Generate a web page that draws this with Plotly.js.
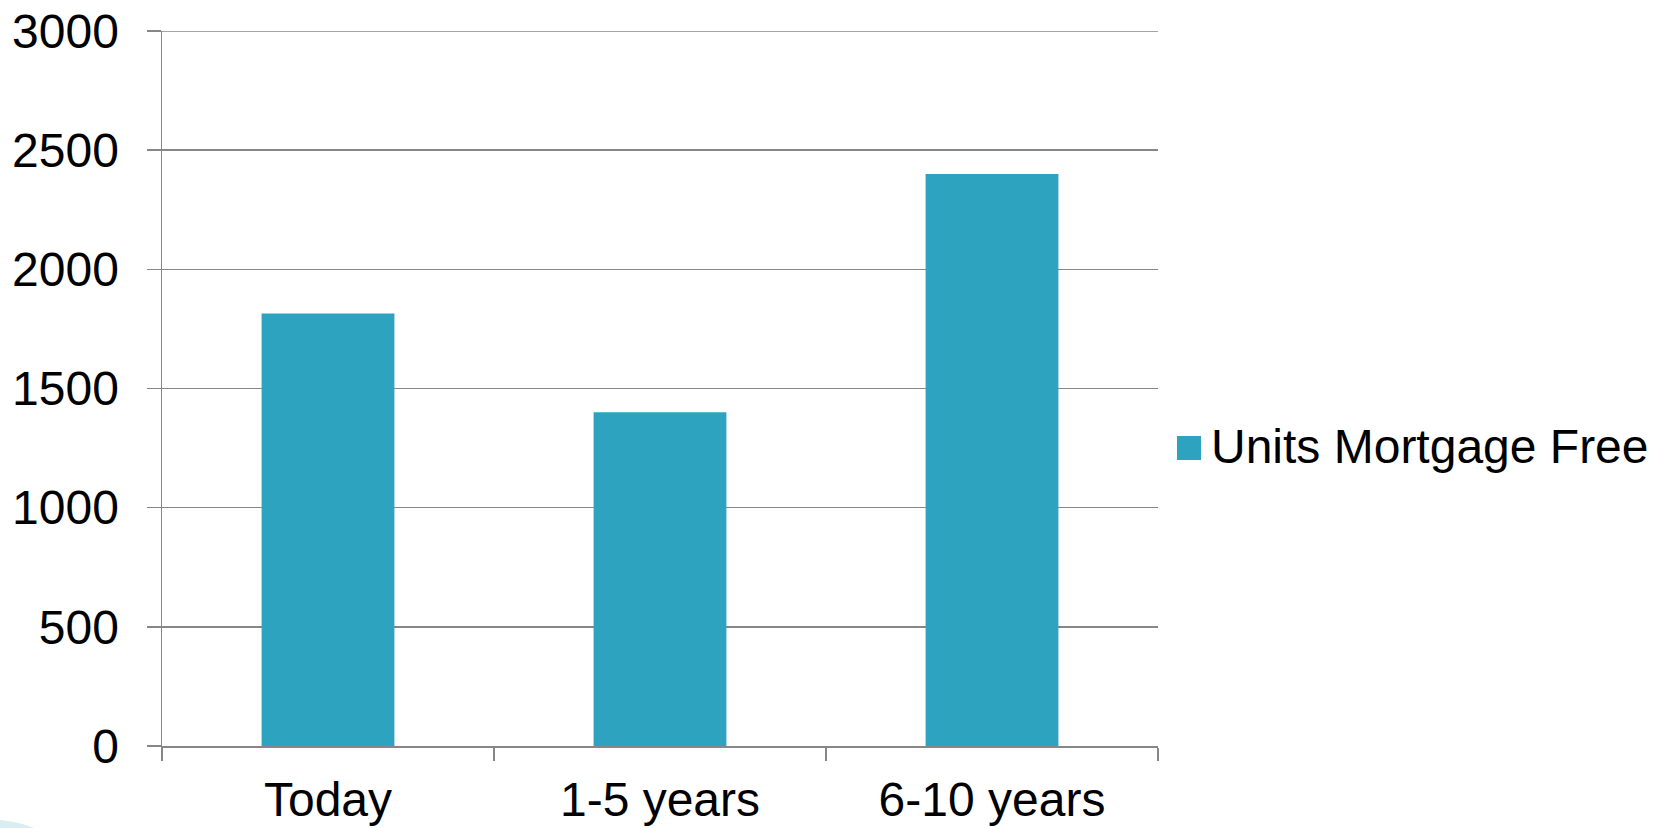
<!DOCTYPE html>
<html>
<head>
<meta charset="utf-8">
<script src="https://cdn.plot.ly/plotly-3.0.1.min.js"></script>
<style>html,body{margin:0;padding:0;background:#fff;}#chart{width:1664px;height:828px;}</style>
</head>
<body>
<div id="chart"></div>
<script>
const categories = ["Today", "1-5 years", "6-10 years"];
const unitsMortgageFree = [1815, 1400, 2400];
const seriesName = "Units Mortgage Free";
const yTickValues = [0, 500, 1000, 1500, 2000, 2500, 3000];

const barColor = "#2da3bf";
const gridColor = "#878787";
const font = "Liberation Sans, Arial, sans-serif";
const fontSize = 48;
const yMax = yTickValues[yTickValues.length - 1];

const trace = {
  type: "bar",
  x: categories,
  y: unitsMortgageFree,
  name: seriesName,
  marker: {color: barColor},
  showlegend: false,
  hoverinfo: "x+y"
};

// plot area in px: x 162..1158, y 31..746
const L = 162, R = 1158, T = 31, B = 746;
const W = R - L, H = B - T;
function px(x) { return (x - L) / W; }
function py(y) { return (B - y) / H; }

const layout = {
  width: 1664,
  height: 828,
  margin: {l: L, r: 1664 - R, t: T, b: 828 - B},
  paper_bgcolor: "#ffffff",
  plot_bgcolor: "#ffffff",
  font: {family: font, size: fontSize, color: "#000000"},
  bargap: 0.6,
  xaxis: {
    type: "category",
    showgrid: false,
    showline: true,
    linecolor: gridColor,
    linewidth: 1.5,
    ticks: "outside",
    tickson: "boundaries",
    ticklen: 13,
    tickwidth: 1.5,
    tickcolor: gridColor,
    tickfont: {family: font, size: fontSize, color: "#000"},
    ticklabelstandoff: 11,
    zeroline: false,
    fixedrange: true
  },
  yaxis: {
    range: [0, yMax],
    tickvals: yTickValues,
    ticktext: yTickValues.map(String),
    showgrid: true,
    gridcolor: gridColor,
    gridwidth: 1.5,
    showline: true,
    linecolor: gridColor,
    linewidth: 1.5,
    ticks: "outside",
    ticklen: 14,
    tickwidth: 1.5,
    tickcolor: gridColor,
    tickfont: {family: font, size: fontSize, color: "#000"},
    ticklabelstandoff: 18,
    zeroline: false,
    fixedrange: true
  },
  shapes: [
    {
      type: "line", xref: "paper", yref: "y",
      x0: 0, x1: 1, y0: yMax, y1: yMax,
      line: {color: gridColor, width: 1.5}, layer: "below"
    },
    {
      type: "rect", xref: "paper", yref: "paper",
      x0: px(1177), x1: px(1201), y0: py(460), y1: py(436),
      fillcolor: barColor, line: {width: 0}
    },
    {
      type: "path", xref: "paper", yref: "paper",
      path: `M ${px(0)} ${py(820)} Q ${px(20)} ${py(822)} ${px(34)} ${py(828)} L ${px(0)} ${py(828)} Z`,
      fillcolor: "#d8edf4", line: {width: 0}, layer: "below"
    }
  ],
  annotations: [
    {
      xref: "paper", yref: "paper",
      x: px(1209), y: py(446),
      xanchor: "left", yanchor: "middle",
      text: seriesName, showarrow: false,
      font: {family: font, size: fontSize, color: "#000"}
    }
  ]
};

Plotly.newPlot("chart", [trace], layout, {displayModeBar: false, staticPlot: true});
</script>
</body>
</html>
